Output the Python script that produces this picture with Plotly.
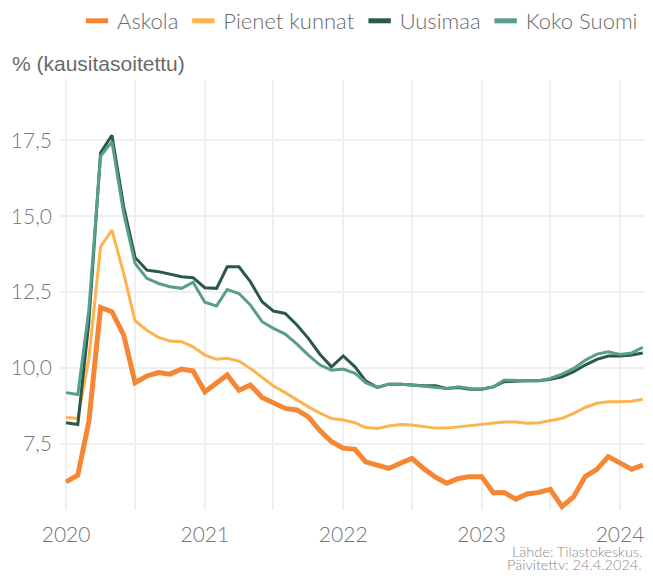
import plotly.graph_objects as go
import pandas as pd

months = pd.date_range("2020-01-01", periods=51, freq="MS").strftime("%Y-%m-%d").tolist()

askola = [6.24, 6.46, 8.22, 11.99, 11.85, 11.08, 9.51, 9.73, 9.84, 9.79, 9.96, 9.89,
          9.21, 9.49, 9.76, 9.26, 9.43, 9.02, 8.83, 8.66, 8.61, 8.38, 7.92, 7.56,
          7.35, 7.31, 6.90, 6.79, 6.68, 6.85, 7.01, 6.68, 6.39, 6.19, 6.35, 6.41,
          6.41, 5.88, 5.89, 5.67, 5.84, 5.89, 5.99, 5.42, 5.75, 6.41, 6.65, 7.07,
          6.87, 6.65, 6.79]
pienet = [8.36, 8.33, 10.3, 13.99, 14.54, 13.11, 11.55, 11.24, 11.00, 10.88, 10.86, 10.69,
          10.42, 10.28, 10.31, 10.22, 9.98, 9.68, 9.40, 9.18, 8.94, 8.71, 8.50, 8.33,
          8.28, 8.19, 8.03, 8.00, 8.08, 8.13, 8.11, 8.05, 8.01, 8.01, 8.05, 8.09,
          8.14, 8.19, 8.21, 8.21, 8.17, 8.19, 8.25, 8.33, 8.50, 8.69, 8.83, 8.88,
          8.88, 8.90, 8.96]
uusimaa = [8.19, 8.13, 11.5, 17.09, 17.67, 15.31, 13.64, 13.22, 13.17, 13.09, 13.00, 12.97,
           12.64, 12.62, 13.33, 13.33, 12.84, 12.18, 11.87, 11.79, 11.41, 10.97, 10.44, 10.03,
           10.39, 10.03, 9.57, 9.35, 9.46, 9.46, 9.43, 9.41, 9.41, 9.32, 9.35, 9.29,
           9.29, 9.37, 9.54, 9.56, 9.57, 9.57, 9.62, 9.70, 9.87, 10.09, 10.28, 10.39,
           10.39, 10.42, 10.49]
koko_suomi = [9.18, 9.12, 11.9, 16.98, 17.45, 15.09, 13.44, 12.95, 12.78, 12.67, 12.62, 12.82,
              12.16, 12.04, 12.58, 12.45, 12.07, 11.52, 11.30, 11.11, 10.78, 10.42, 10.09, 9.92,
              9.96, 9.82, 9.51, 9.35, 9.46, 9.46, 9.43, 9.40, 9.37, 9.32, 9.37, 9.32,
              9.30, 9.37, 9.59, 9.57, 9.57, 9.57, 9.65, 9.79, 9.98, 10.25, 10.45, 10.53,
              10.44, 10.49, 10.67]

series_names = ["Askola", "Pienet kunnat", "Uusimaa", "Koko Suomi"]
series_values = [askola, pienet, uusimaa, koko_suomi]
colors = ["#F58634", "#FDB34E", "#2C5849", "#589D8D"]
widths = [5, 3, 3, 3]

y_tickvals = [7.5, 10.0, 12.5, 15.0, 17.5]
x_tickvals = ["2020-01-01", "2021-01-01", "2022-01-01", "2023-01-01", "2024-01-01"]
x_ticktext = ["2020", "2021", "2022", "2023", "2024"]
source_lines = ["Lähde: Tilastokeskus.", "Päivitetty: 24.4.2024."]

FONT = "Lato"
GREY = "#767676"

fig = go.Figure()
for name, vals, c, w in zip(series_names, series_values, colors, widths):
    fig.add_trace(go.Scatter(x=months, y=vals, mode="lines", name=name,
                             line=dict(color=c, width=w), showlegend=False,
                             hoverinfo="x+y"))
# legend swatches
for name, c in zip(series_names, colors):
    fig.add_trace(go.Scatter(x=[None], y=[None], mode="markers", name=name,
                             marker=dict(symbol="line-ew", size=17, color=c,
                                         line=dict(color=c, width=6)),
                             showlegend=True))

PH = 430.0  # plot height in px
PW = 593.0  # plot width in px

fig.update_layout(
    width=645, height=562,
    margin=dict(l=52, r=0, t=72, b=60, autoexpand=False),
    paper_bgcolor="white", plot_bgcolor="white",
    separators=", ",
    font=dict(family=FONT, color=GREY, size=21, weight=300),
    legend=dict(orientation="h", x=1 - 10/PW, xanchor="right",
                y=1 + 59/PH, yanchor="middle",
                xref="paper", yref="paper",
                font=dict(family=FONT, size=22, color="#6a6a6a", weight=300),
                itemwidth=30, bgcolor="rgba(0,0,0,0)"),
    xaxis=dict(type="date", range=["2019-12-16", "2024-03-28"],
               tickvals=x_tickvals, ticktext=x_ticktext,
               showgrid=True, gridcolor="#efefef", gridwidth=2,
               minor=dict(dtick="M6", tick0="2020-01-01", showgrid=True,
                          gridcolor="#efefef", gridwidth=2),
               zeroline=False, showline=False, ticks="",
               ticklabelstandoff=10,
               tickfont=dict(family=FONT, size=21, color=GREY, weight=300)),
    yaxis=dict(range=[5.31, 19.49], tickvals=y_tickvals,
               tickformat=".1f",
               showgrid=True, gridcolor="#efefef", gridwidth=2,
               zeroline=False, showline=False, ticks="",
               ticklabelstandoff=7,
               tickfont=dict(family=FONT, size=21, color=GREY, weight=300)),
    annotations=[
        dict(text="% (kausitasoitettu)", xref="paper", yref="paper",
             x=-50/PW, y=1.0 + 17/PH, xanchor="left", yanchor="middle",
             showarrow=False,
             font=dict(family="Liberation Sans", size=21, color="#6a6a6a")),
        dict(text=source_lines[0],
             xref="paper", yref="paper", x=1 - 9/PW, y=-41/PH,
             xanchor="right", yanchor="middle", align="right", showarrow=False,
             font=dict(family=FONT, size=14.5, color="#8a8a8a", weight=300)),
        dict(text=source_lines[1],
             xref="paper", yref="paper", x=1 - 9/PW, y=-54/PH,
             xanchor="right", yanchor="middle", align="right", showarrow=False,
             font=dict(family=FONT, size=14.5, color="#8a8a8a", weight=300)),
    ],
)

fig.write_html("out.html")
